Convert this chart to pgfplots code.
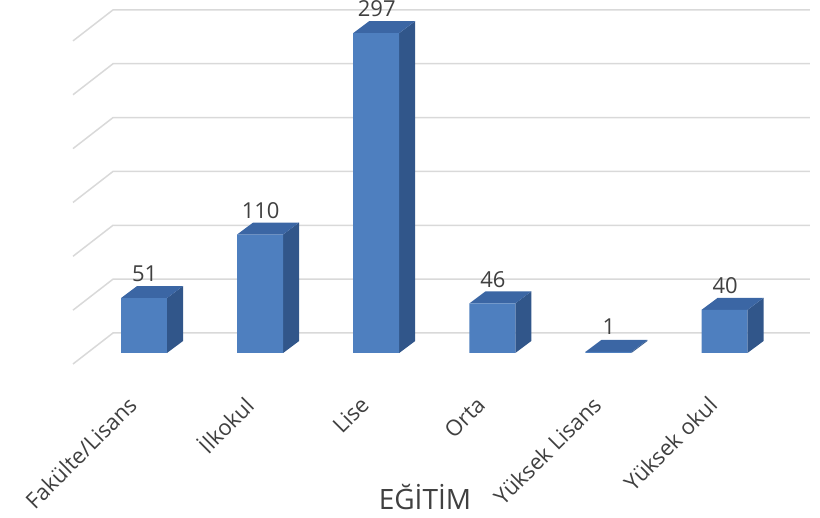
\documentclass[border=0pt]{standalone}
\usepackage{pgfplots}
\pgfplotsset{compat=1.18}
\usepackage{fontspec}
\setmainfont{Open Sans}
\definecolor{front}{HTML}{4E7FBF}
\definecolor{topc}{HTML}{3B66A4}
\definecolor{side}{HTML}{31568A}
\definecolor{gridc}{HTML}{D9D9D9}
\definecolor{txt}{HTML}{404040}
\begin{document}
\begin{tikzpicture}
\begin{axis}[
  x=116.1pt, y=1.077pt,
  xmin=-1.2403, xmax=5.8226, ymin=-41.8, ymax=327.76,
  clip=false,
  axis line style={draw=none},
  major tick length=0pt,
  ytick=\empty,
  xtick={0,1,2,3,4,5},
  xticklabels={Fakülte/Lisans,İlkokul,Lise,Orta,Yüksek Lisans,Yüksek okul},
  xticklabel style={rotate=45, anchor=east, inner sep=0pt, xshift=-10pt, yshift=6pt, text=txt, font=\fontsize{22}{26}\selectfont},
]
% gridlines (back wall + left wall)
\addplot[gridc, line width=1.5pt] coordinates {(-0.6115,-10.21) (-0.267,18.57) (5.736,18.57)};
\addplot[gridc, line width=1.5pt] coordinates {(-0.6115,39.79) (-0.267,68.57) (5.736,68.57)};
\addplot[gridc, line width=1.5pt] coordinates {(-0.6115,89.79) (-0.267,118.57) (5.736,118.57)};
\addplot[gridc, line width=1.5pt] coordinates {(-0.6115,139.79) (-0.267,168.57) (5.736,168.57)};
\addplot[gridc, line width=1.5pt] coordinates {(-0.6115,189.79) (-0.267,218.57) (5.736,218.57)};
\addplot[gridc, line width=1.5pt] coordinates {(-0.6115,239.79) (-0.267,268.57) (5.736,268.57)};
\addplot[gridc, line width=1.5pt] coordinates {(-0.6115,289.79) (-0.267,318.57) (5.736,318.57)};
% side faces
\addplot[fill=side, draw=none] coordinates {(0.198,0) (0.336,11.14) (0.336,62.14) (0.198,51)} --cycle;
\addplot[fill=side, draw=none] coordinates {(1.198,0) (1.336,11.14) (1.336,121.14) (1.198,110)} --cycle;
\addplot[fill=side, draw=none] coordinates {(2.198,0) (2.336,11.14) (2.336,308.14) (2.198,297)} --cycle;
\addplot[fill=side, draw=none] coordinates {(3.198,0) (3.336,11.14) (3.336,57.14) (3.198,46)} --cycle;
\addplot[fill=side, draw=none] coordinates {(4.198,0) (4.336,11.14) (4.336,12.14) (4.198,1)} --cycle;
\addplot[fill=side, draw=none] coordinates {(5.198,0) (5.336,11.14) (5.336,51.14) (5.198,40)} --cycle;
% top faces
\addplot[fill=topc, draw=none] coordinates {(-0.198,51) (0.198,51) (0.336,62.14) (-0.060,62.14)} --cycle;
\addplot[fill=topc, draw=none] coordinates {(0.802,110) (1.198,110) (1.336,121.14) (0.940,121.14)} --cycle;
\addplot[fill=topc, draw=none] coordinates {(1.802,297) (2.198,297) (2.336,308.14) (1.940,308.14)} --cycle;
\addplot[fill=topc, draw=none] coordinates {(2.802,46) (3.198,46) (3.336,57.14) (2.940,57.14)} --cycle;
\addplot[fill=topc, draw=none] coordinates {(3.802,1) (4.198,1) (4.336,12.14) (3.940,12.14)} --cycle;
\addplot[fill=topc, draw=none] coordinates {(4.802,40) (5.198,40) (5.336,51.14) (4.940,51.14)} --cycle;
% front faces
\addplot[ybar, bar width=0.396, bar shift=0pt, fill=front, draw=none]
  coordinates {(0,51) (1,110) (2,297) (3,46) (4,1) (5,40)};
% value labels
\addplot[only marks, mark=none, point meta=explicit symbolic,
  nodes near coords, nodes near coords style={anchor=base, inner sep=0pt, text=txt, font=\fontsize{22}{26}\selectfont}]
  coordinates {(0.005,66) [51] (1.005,125) [110] (2.005,312) [297] (3.005,61) [46] (4.005,17) [1] (5.005,55) [40]};
\node[text=txt, font=\fontsize{28}{32}\selectfont] at (axis cs:2.42,-133.7) {EĞİTİM};
\coordinate (bbsw) at (axis cs:-1.2403,-153.2);
\coordinate (bbne) at (axis cs:5.8226,327.76);
\end{axis}
\pgfresetboundingbox
\path[use as bounding box] (bbsw) rectangle (bbne);
\end{tikzpicture}
\end{document}
